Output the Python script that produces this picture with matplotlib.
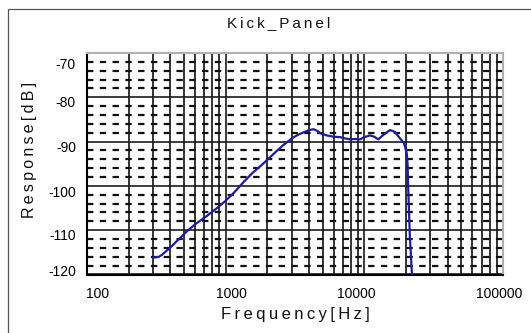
import matplotlib
matplotlib.use("Agg")
import matplotlib.pyplot as plt
import matplotlib.transforms as mtransforms
from matplotlib.patches import Rectangle
from matplotlib.ticker import FixedLocator, LogLocator, MultipleLocator, NullFormatter

# Frequency response of the kick panel
freq_hz = [300, 330, 346, 370, 396, 450, 523, 600, 730, 850, 988, 1150, 1340,
           1570, 1800, 2050, 2300, 2600, 3000, 3300, 3650, 4000, 4300, 4600,
           4800, 5350, 6000, 6700, 7300, 7900, 8600, 9300, 10000, 11000,
           11800, 12600, 13700, 15300, 16600, 18000, 19300, 20200, 20500,
           20700, 21300, 22000, 22300]
response_db = [-116.2, -116.0, -115.6, -114.8, -114.0, -112.3, -110.3, -108.7,
               -106.8, -105.2, -103.5, -101.5, -99.2, -97.0, -95.4, -93.8,
               -92.3, -90.8, -89.3, -88.5, -87.9, -87.4, -87.2, -87.6, -88.1,
               -88.6, -88.9, -89.0, -89.3, -89.5, -89.4, -89.5, -89.0, -88.6,
               -88.9, -89.5, -88.5, -87.4, -87.8, -89.2, -90.3, -92.5, -95.0,
               -100.0, -111.5, -119.5, -121.0]

x_ticks = [100, 1000, 10000, 100000]
x_tick_labels = ["100", "1000", "10000", "100000"]
y_ticks = [-120, -110, -100, -90, -80, -70]
y_tick_labels = ["-120", "-110", "-100", "-90", "-80", "-70"]

title = "Kick_Panel"
x_label = "Frequency[Hz]"
y_label = "Response[dB]"

plt.rcParams["font.family"] = ["Liberation Sans", "DejaVu Sans"]
plt.rcParams["lines.scale_dashes"] = False


def spaced(s, sep="\u2009"):
    return sep.join(s)


W, H, DPI = 531, 333, 100
fig = plt.figure(figsize=(W / DPI, H / DPI), dpi=DPI)
fig.patch.set_facecolor("white")

# outer frame (only top and left edges fall inside the image)
fig.add_artist(Rectangle((8 / W, -0.2), 1.2, 1 - 9 / H + 0.2,
                         transform=fig.transFigure, fill=False,
                         edgecolor="#555555", linewidth=0.9))

ax = fig.add_axes([87 / W, (H - 274.5) / H, 416 / W, (274.5 - 53) / H])
ax.set_xscale("log")
ax.set_xlim(100, 100000)
ax.set_ylim(-120, -70)

# grid
ax.xaxis.set_major_locator(FixedLocator(x_ticks))
ax.xaxis.set_minor_locator(LogLocator(base=10, subs=range(2, 10)))
ax.xaxis.set_minor_formatter(NullFormatter())
ax.yaxis.set_major_locator(FixedLocator(y_ticks))
ax.yaxis.set_minor_locator(MultipleLocator(2))
ax.set_axisbelow(True)
ax.grid(True, which="major", axis="both", color="#1a1a1a", linewidth=1.2)
ax.grid(True, which="minor", axis="x", color="#111111", linewidth=1.2)
ax.grid(True, which="minor", axis="y", color="#111111", linewidth=1.6,
        linestyle=(0, (4.6, 4.6)))

ax.plot(freq_hz, response_db, color="#1c1c9c", linewidth=1.6,
        solid_joinstyle="round", zorder=3, clip_on=True)

for side in ("left", "bottom"):
    ax.spines[side].set_color("#000000")
    ax.spines[side].set_linewidth(1.5)
for side in ("top", "right"):
    ax.spines[side].set_color("#b0b0b0")
    ax.spines[side].set_linewidth(1.5)

ax.tick_params(which="both", length=0)
ax.tick_params(axis="x", pad=9, labelsize=10)
ax.tick_params(axis="y", pad=8, labelsize=10)
ax.set_xticklabels(x_tick_labels)
ax.set_yticklabels(y_tick_labels)

# small label nudges (pixels)
x_shift = [11, 6, -8, -4]
for lab, dx in zip(ax.get_xticklabels(), x_shift):
    lab.set_transform(lab.get_transform() +
                      mtransforms.ScaledTranslation(dx / DPI, 0, fig.dpi_scale_trans))
y_shift = [4, -4, -6, -5, -4, -11]
for lab, dy in zip(ax.get_yticklabels(), y_shift):
    lab.set_transform(lab.get_transform() +
                      mtransforms.ScaledTranslation(0, dy / DPI, fig.dpi_scale_trans))

fig.text(279 / W, 1 - 23 / H, spaced(title), ha="center", va="center",
         fontsize=11, color="#111111")
fig.text(295 / W, 1 - 315 / H, spaced(x_label), ha="center", va="center",
         fontsize=12, color="#111111")
fig.text(30 / W, 1 - 150 / H, spaced(y_label), ha="center", va="center",
         rotation=90, fontsize=11.5, color="#111111")

fig.savefig("out.png", dpi=DPI, facecolor="white")
